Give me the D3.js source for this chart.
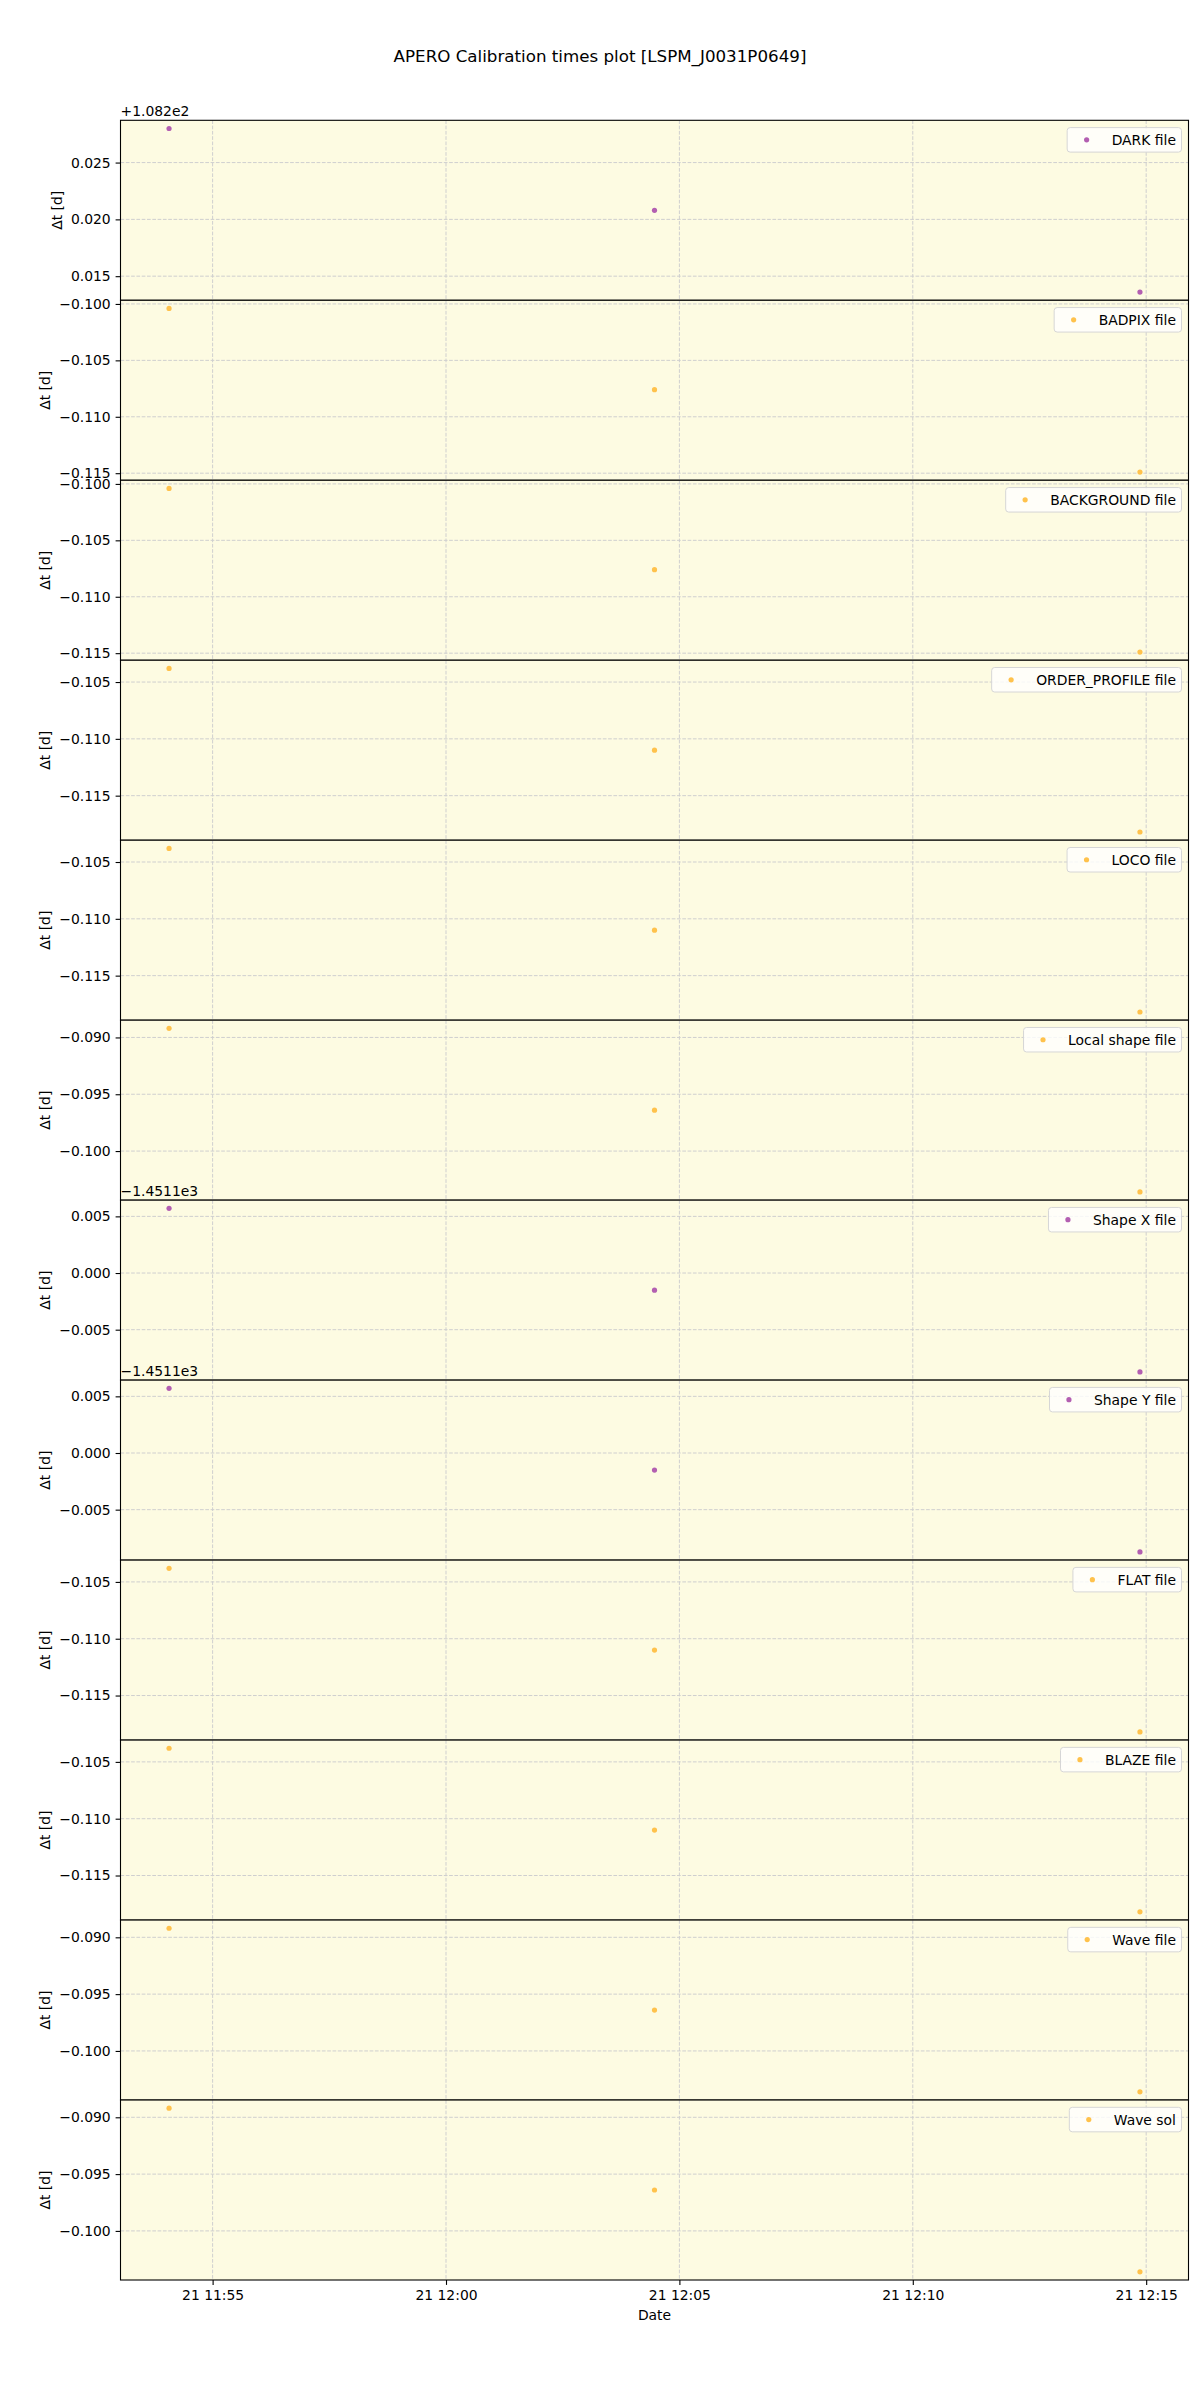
<!DOCTYPE html>
<html>
<head>
<meta charset="utf-8">
<script src="https://cdn.jsdelivr.net/npm/d3@7"></script>
<style>
  html, body { margin: 0; padding: 0; background: #ffffff; }
  svg { display: block; }
  text { font-family: "DejaVu Sans", sans-serif; fill: #000; }
</style>
</head>
<body>
<svg id="chart" width="1200" height="2400"></svg>
<script>
// ---------------- data ----------------
const chartTitle = "APERO Calibration times plot [LSPM_J0031P0649]";
const obsTimes = ["2023-08-21T11:54:04Z", "2023-08-21T12:04:28Z", "2023-08-21T12:14:52Z"];

const panelLabels = ["DARK file", "BADPIX file", "BACKGROUND file", "ORDER_PROFILE file",
  "LOCO file", "Local shape file", "Shape X file", "Shape Y file",
  "FLAT file", "BLAZE file", "Wave file", "Wave sol"];

const panelColors = ["purple", "orange", "orange", "orange", "orange", "orange",
  "purple", "purple", "orange", "orange", "orange", "orange"];

// delta-t values [d] for each panel (three observations)
const darkValues        = [108.2280, 108.2208, 108.2136];
const badpixValues      = [-0.1004, -0.1076, -0.1149];
const backgroundValues  = [-0.1004, -0.1076, -0.1149];
const orderProfileValues= [-0.1038, -0.1110, -0.1182];
const locoValues        = [-0.1038, -0.1110, -0.1182];
const localShapeValues  = [-0.0892, -0.0964, -0.1036];
const shapeXValues      = [-1451.09429, -1451.10151, -1451.10873];
const shapeYValues      = [-1451.09429, -1451.10151, -1451.10873];
const flatValues        = [-0.1038, -0.1110, -0.1182];
const blazeValues       = [-0.1038, -0.1110, -0.1182];
const waveFileValues    = [-0.0892, -0.0964, -0.1036];
const waveSolValues     = [-0.0892, -0.0964, -0.1036];

const panelValues = [darkValues, badpixValues, backgroundValues, orderProfileValues,
  locoValues, localShapeValues, shapeXValues, shapeYValues,
  flatValues, blazeValues, waveFileValues, waveSolValues];

// axis offsets (matplotlib offset text) and their labels
const panelOffsets = [108.2, 0, 0, 0, 0, 0, -1451.1, -1451.1, 0, 0, 0, 0];
const offsetLabels = ["+1.082e2", "", "", "", "", "", "\u22121.4511e3", "\u22121.4511e3", "", "", "", ""];

// y tick values (relative to offset)
const ticksDark   = [0.015, 0.020, 0.025];
const ticksBadpix = [-0.115, -0.110, -0.105, -0.100];
const ticksOrder  = [-0.115, -0.110, -0.105];
const ticksLocal  = [-0.100, -0.095, -0.090];
const ticksShape  = [-0.005, 0.000, 0.005];
const panelTicks = [ticksDark, ticksBadpix, ticksBadpix, ticksOrder, ticksOrder, ticksLocal,
  ticksShape, ticksShape, ticksOrder, ticksOrder, ticksLocal, ticksLocal];

const xTickTimes = ["2023-08-21T11:55:00Z", "2023-08-21T12:00:00Z", "2023-08-21T12:05:00Z",
  "2023-08-21T12:10:00Z", "2023-08-21T12:15:00Z"];
const xTickLabels = ["21 11:55", "21 12:00", "21 12:05", "21 12:10", "21 12:15"];
const xAxisLabel = "Date";
const yAxisLabel = "\u0394t [d]";

// ---------------- layout ----------------
(function () {
const colorMap = { purple: "#b35fb1", orange: "#ffc24c" };
const leftX = 120.5, rightX = 1188.5, topY = 120.3, bottomY = 2280;
const nP = panelLabels.length;
const ph = (bottomY - topY) / nP;
const FS = 13.9;

const svg = d3.select("#chart");

const times = obsTimes.map(s => new Date(s));
const tMin = d3.min(times), tMax = d3.max(times);
const tPad = (tMax - tMin) * 0.05;
const x = d3.scaleUtc()
  .domain([new Date(+tMin - tPad), new Date(+tMax + tPad)])
  .range([leftX, rightX]);

svg.append("text")
  .attr("x", 600).attr("y", 62)
  .attr("text-anchor", "middle")
  .style("font-size", "16.7px")
  .text(chartTitle);

const fmt = d3.format(".3f");

panelLabels.forEach((label, i) => {
  const pTop = topY + i * ph, pBot = pTop + ph;
  const off = panelOffsets[i];
  const vals = panelValues[i].map(v => v - off);
  const vmin = d3.min(vals), vmax = d3.max(vals);
  const vpad = (vmax - vmin) * 0.05;
  const y = d3.scaleLinear().domain([vmin - vpad, vmax + vpad]).range([pBot, pTop]);
  const g = svg.append("g");

  g.append("rect")
    .attr("x", leftX).attr("y", pTop)
    .attr("width", rightX - leftX).attr("height", ph)
    .attr("fill", "#fdfbe2");

  const clipId = "clip" + i;
  g.append("clipPath").attr("id", clipId)
    .append("rect").attr("x", leftX).attr("y", pTop).attr("width", rightX - leftX).attr("height", ph);
  const grid = g.append("g").attr("clip-path", `url(#${clipId})`);
  xTickTimes.forEach(s => {
    const xx = x(new Date(s));
    grid.append("line")
      .attr("x1", xx).attr("x2", xx).attr("y1", pTop).attr("y2", pBot)
      .attr("stroke", "#cfcfcf").attr("stroke-width", 1).attr("stroke-dasharray", "3.7,1.6");
  });
  panelTicks[i].forEach(t => {
    const yy = y(t);
    grid.append("line")
      .attr("x1", leftX).attr("x2", rightX).attr("y1", yy).attr("y2", yy)
      .attr("stroke", "#cfcfcf").attr("stroke-width", 1).attr("stroke-dasharray", "3.7,1.6");
  });

  grid.selectAll("circle.pt").data(vals).enter().append("circle")
    .attr("class", "pt")
    .attr("cx", (d, k) => x(times[k]))
    .attr("cy", d => y(d))
    .attr("r", 2.6)
    .attr("fill", colorMap[panelColors[i]]);

  const yAxis = d3.axisLeft(y).tickValues(panelTicks[i])
    .tickFormat(d => fmt(d)).tickSize(4.9).tickPadding(4.9);
  const ya = g.append("g").attr("transform", `translate(${leftX},0)`).call(yAxis);
  ya.select(".domain").remove();
  ya.selectAll("line").attr("stroke", "#000").attr("stroke-width", 1.1);
  ya.selectAll("text").style("font-size", FS + "px").style("font-family", "DejaVu Sans").attr("fill", "#000");

  let maxW = 0;
  ya.selectAll("text").each(function () { maxW = Math.max(maxW, this.getComputedTextLength()); });

  g.append("rect")
    .attr("x", leftX).attr("y", pTop)
    .attr("width", rightX - leftX).attr("height", ph)
    .attr("fill", "none").attr("stroke", "#000").attr("stroke-width", 1.1);

  const lx = leftX - 9.8 - maxW - 5.6 - 3.3;
  g.append("text")
    .attr("transform", `translate(${lx},${pTop + ph / 2}) rotate(-90)`)
    .attr("text-anchor", "middle")
    .style("font-size", FS + "px")
    .text(yAxisLabel);

  if (offsetLabels[i]) {
    g.append("text")
      .attr("x", leftX).attr("y", pTop - 4.3)
      .style("font-size", FS + "px")
      .text(offsetLabels[i]);
  }

  const lg = g.append("g");
  const lt = lg.append("text").style("font-size", FS + "px").text(label);
  const tw = lt.node().getComputedTextLength();
  const pad = 0.4 * FS, handle = 2 * FS, hpad = 0.8 * FS;
  const lw = pad + handle + hpad + tw + pad;
  const lh = 24.5;
  const lxr = rightX - 7, lyt = pTop + 7.3;
  const lx0 = lxr - lw;
  lg.insert("rect", "text")
    .attr("x", lx0).attr("y", lyt).attr("width", lw).attr("height", lh)
    .attr("rx", 3).attr("fill", "rgba(255,255,255,0.8)")
    .attr("stroke", "#d6d6d6").attr("stroke-width", 1);
  lg.append("circle")
    .attr("cx", lx0 + pad + handle / 2).attr("cy", lyt + lh / 2)
    .attr("r", 2.6).attr("fill", colorMap[panelColors[i]]);
  lt.attr("x", lx0 + pad + handle + hpad).attr("y", lyt + lh / 2 + 5);

  if (i === nP - 1) {
    const xAxis = d3.axisBottom(x)
      .tickValues(xTickTimes.map(s => new Date(s)))
      .tickFormat((d, k) => xTickLabels[k])
      .tickSize(4.9).tickPadding(4.9);
    const xa = g.append("g").attr("transform", `translate(0,${pBot})`).call(xAxis);
    xa.select(".domain").remove();
    xa.selectAll("line").attr("stroke", "#000").attr("stroke-width", 1.1);
    xa.selectAll("text").style("font-size", FS + "px").style("font-family", "DejaVu Sans").attr("fill", "#000");
    g.append("text")
      .attr("x", (leftX + rightX) / 2).attr("y", pBot + 40)
      .attr("text-anchor", "middle")
      .style("font-size", FS + "px")
      .text(xAxisLabel);
  }
});
})();
</script>
</body>
</html>
